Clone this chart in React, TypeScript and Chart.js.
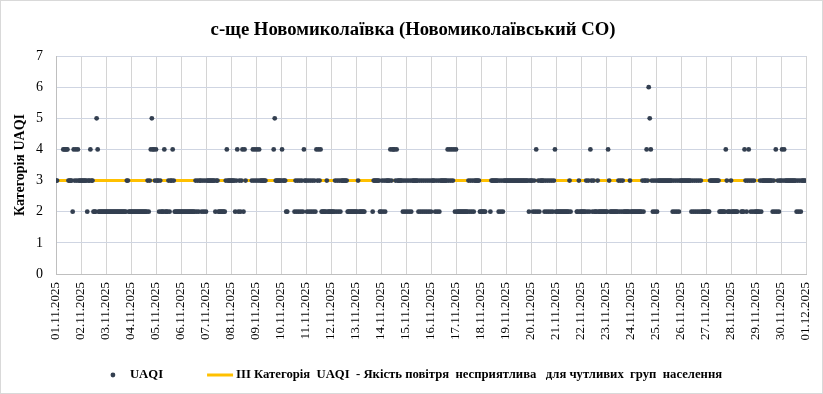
import React, { useEffect, useRef } from 'react';
import { Chart, registerables } from 'chart.js';

Chart.register(...registerables);

const TITLE = 'с-ще Новомиколаївка (Новомиколаївський СО)';
const Y_TITLE = 'Категорія UAQI';
const SERIES_LABEL = 'UAQI';
const THRESHOLD_LABEL = 'ІІІ Категорія  UAQI  - Якість повітря  несприятлива   для чутливих  груп  населення';

const dateLabels = [
  '01.11.2025', '02.11.2025', '03.11.2025', '04.11.2025', '05.11.2025', '06.11.2025',
  '07.11.2025', '08.11.2025', '09.11.2025', '10.11.2025', '11.11.2025', '12.11.2025',
  '13.11.2025', '14.11.2025', '15.11.2025', '16.11.2025', '17.11.2025', '18.11.2025',
  '19.11.2025', '20.11.2025', '21.11.2025', '22.11.2025', '23.11.2025', '24.11.2025',
  '25.11.2025', '26.11.2025', '27.11.2025', '28.11.2025', '29.11.2025', '30.11.2025',
  '01.12.2025',
];

// Hourly UAQI category, one string of 24 hours per day ('.' = no reading)
const week1 = [
  '33.....44444333324343433', // 01.11
  '333333233433222542222222', // 02.11
  '222222222222222222223322', // 03.11
  '222222222222222232345443', // 04.11
  '433232224222323343222222', // 05.11
  '222222222222223232332323', // 06.11
  '233333333233222222234333', // 07.11
];
const week2 = [
  '333323423234243.....3434', // 08.11
  '3434333333.......4533333', // 09.11
  '3433322......23232323243', // 10.11
  '323232323243434222223222', // 11.11
  '222232323233333322222222', // 12.11
  '223222222.......23333332', // 13.11
  '232323333434443433333232', // 14.11
];
const week3 = [
  '323232333333232323232323', // 15.11
  '233323232333333343434342', // 16.11
  '422222222222323232333332', // 17.11
  '22222....233333332323233', // 18.11
  '333333333333333333333323', // 19.11
  '332324232333323232323234', // 20.11
  '222222222222232.....2232', // 21.11
];
const week4 = [
  '222223232432322232222222', // 22.11
  '224322222222323232222223', // 23.11
  '222222222223233436543232', // 24.11
  '323333333333333323232323', // 25.11
  '333333333323232323232222', // 26.11
  '222233333333322222243222', // 27.11
  '3222222...22243234323232', // 28.11
];
const week5 = [
  '222232333333333323242323', // 29.11
  '343433333333333232323333', // 30.11
];

const thresholdValue = 3;
const yMin = 0;
const yMax = 7;
const hoursPerDay = 24;

const FONT = '"Liberation Serif", "Times New Roman", serif';

export default function App() {
  const ref = useRef<HTMLCanvasElement | null>(null);

  useEffect(() => {
    if (!ref.current) return;
    const days = [...week1, ...week2, ...week3, ...week4, ...week5];
    const points: { x: number; y: number }[] = [];
    days.forEach((s, d) => {
      for (let h = 0; h < s.length; h++) {
        const c = s[h];
        if (c >= '0' && c <= '9') points.push({ x: d * hoursPerDay + h, y: Number(c) });
      }
    });
    const totalHours = days.length * hoursPerDay;

    const borderPlugin = {
      id: 'frame',
      beforeDraw(chart: any) {
        const ctx = chart.ctx;
        ctx.save();
        ctx.fillStyle = '#ffffff';
        ctx.fillRect(0, 0, chart.width, chart.height);
        ctx.strokeStyle = '#d9d9d9';
        ctx.lineWidth = 1;
        ctx.strokeRect(0.5, 0.5, chart.width - 1, chart.height - 1);
        ctx.restore();
      },
    };

    const titlePlugin = {
      id: 'customTitle',
      afterDraw(chart: any) {
        const ctx = chart.ctx;
        ctx.save();
        ctx.font = `bold 18.7px ${FONT}`;
        ctx.fillStyle = '#000';
        ctx.textAlign = 'center';
        ctx.textBaseline = 'middle';
        ctx.fillText(TITLE, chart.width / 2 + 1.5, 30.5);
        ctx.restore();
      },
    };

    const legendPlugin = {
      id: 'customLegend',
      afterDraw(chart: any) {
        const ctx = chart.ctx;
        ctx.save();
        ctx.font = `bold 12.7px ${FONT}`;
        const w1 = ctx.measureText(SERIES_LABEL).width;
        const w2 = ctx.measureText(THRESHOLD_LABEL).width;
        const gap = 44;
        const lineLen = 26;
        const total = 20 + w1 + gap + lineLen + 3 + w2;
        const start = (chart.width - total) / 2 + 4.5;
        const y = 375;
        ctx.fillStyle = '#333f50';
        ctx.beginPath();
        ctx.arc(start + 3, y, 2.4, 0, Math.PI * 2);
        ctx.fill();
        ctx.fillStyle = '#000';
        ctx.textBaseline = 'middle';
        ctx.textAlign = 'left';
        ctx.fillText(SERIES_LABEL, start + 20, y);
        const lx = start + 20 + w1 + gap;
        ctx.strokeStyle = '#FFC000';
        ctx.lineWidth = 3;
        ctx.beginPath();
        ctx.moveTo(lx, y);
        ctx.lineTo(lx + lineLen, y);
        ctx.stroke();
        ctx.fillText(THRESHOLD_LABEL, lx + lineLen + 3, y);
        ctx.restore();
      },
    };

    const chart = new Chart(ref.current, {
      type: 'scatter',
      data: {
        datasets: [
          {
            label: SERIES_LABEL,
            data: points,
            backgroundColor: '#333f50',
            borderColor: '#333f50',
            borderWidth: 0,
            pointRadius: 2.4,
            pointHoverRadius: 2.4,
          },
          {
            label: THRESHOLD_LABEL,
            data: [
              { x: 0, y: thresholdValue },
              { x: totalHours, y: thresholdValue },
            ],
            showLine: true,
            borderColor: '#FFC000',
            backgroundColor: '#FFC000',
            borderWidth: 3,
            pointRadius: 0,
          },
        ],
      },
      options: {
        animation: false,
        responsive: false,
        layout: { padding: { left: 1, right: 17, top: 56, bottom: 40 } },
        plugins: {
          legend: { display: false },
          tooltip: { enabled: false },
          title: { display: false },
        },
        scales: {
          x: {
            type: 'linear',
            min: 0,
            max: totalHours,
            ticks: {
              stepSize: hoursPerDay,
              autoSkip: false,
              minRotation: 90,
              maxRotation: 90,
              padding: 8,
              color: '#000',
              font: { family: FONT, size: 13 },
              callback: (v: any) => dateLabels[Math.round(Number(v) / hoursPerDay)] ?? '',
            },
            grid: { color: '#d4d4d4', drawTicks: false },
            border: { color: '#bfbfbf' },
            afterFit: (s: any) => {
              s.height = 80;
              s.paddingLeft = 0;
              s.paddingRight = 0;
            },
          },
          y: {
            min: yMin,
            max: yMax,
            ticks: {
              stepSize: 1,
              padding: 13,
              color: '#000',
              font: { family: FONT, size: 14 },
            },
            grid: { color: '#cfd5e2', drawTicks: false },
            border: { color: '#bfbfbf' },
            title: {
              display: true,
              text: Y_TITLE,
              color: '#000',
              font: { family: FONT, size: 14, weight: 'bold' },
              padding: { top: 11, bottom: 0 },
            },
            afterFit: (s: any) => {
              s.width = 55;
            },
          },
        },
      },
      plugins: [borderPlugin, titlePlugin, legendPlugin],
    } as any);

    return () => chart.destroy();
  }, []);

  return (
    <div style={{ position: 'absolute', left: 0, top: 0, width: 823, height: 394 }}>
      <canvas ref={ref} width={823} height={394} style={{ display: 'block' }} />
    </div>
  );
}
